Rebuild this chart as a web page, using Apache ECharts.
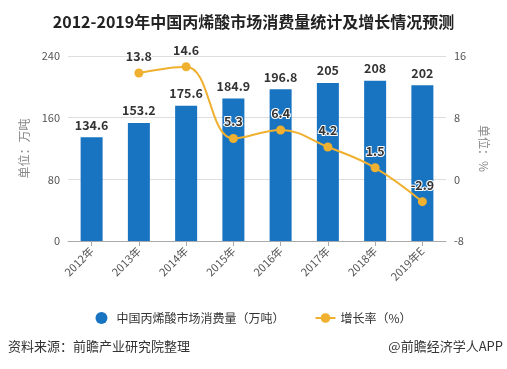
<!DOCTYPE html>
<html><head><meta charset="utf-8">
<script src="https://cdn.jsdelivr.net/npm/echarts@6/dist/echarts.min.js"></script>
<style>html,body{margin:0;padding:0;background:#fff}#c{width:507px;height:369px}</style>
</head><body><div id="c"></div>
<script>
const categories = ['2012年','2013年','2014年','2015年','2016年','2017年','2018年','2019年E'];
const consumption = [134.6,153.2,175.6,184.9,196.8,205,208,202];
const growth = [null,13.8,14.6,5.3,6.4,4.2,1.5,-2.9];
const leftTicks = {min:0,max:240,interval:80};
const rightTicks = {min:-8,max:16,interval:8};
const FONT = '"Noto Sans CJK SC","Microsoft YaHei",sans-serif';
const chart = echarts.init(document.getElementById('c'));
chart.setOption({
  animation:false,
  textStyle:{fontFamily:FONT},
  title:{text:'2012-2019年中国丙烯酸市场消费量统计及增长情况预测',left:'center',top:9,
    textStyle:{fontSize:16,fontWeight:'bold',color:'#222',fontFamily:FONT}},
  grid:{left:68,right:61,top:56,bottom:128},
  legend:{top:307,left:'center',itemGap:30,itemWidth:20,itemHeight:12,
    textStyle:{fontSize:12,color:'#333',fontFamily:FONT},
    data:[{name:'中国丙烯酸市场消费量（万吨）',icon:'circle'},{name:'增长率（%）'}]},
  graphic:[
    {type:'text',left:8,top:340,style:{text:'资料来源：前瞻产业研究院整理',fontSize:13,fill:'#333',fontFamily:FONT}},
    {type:'text',right:4,top:340,style:{text:'@前瞻经济学人APP',fontSize:13,fill:'#333',fontFamily:FONT}}
  ],
  xAxis:{type:'category',data:categories,
    axisLine:{lineStyle:{color:'#aaa'}},axisTick:{show:true,alignWithLabel:true,lineStyle:{color:'#aaa'}},
    axisLabel:{rotate:45,fontSize:11,color:'#555',margin:8}},
  yAxis:[
    {type:'value',min:leftTicks.min,max:leftTicks.max,interval:leftTicks.interval,
     name:'单位：万吨',nameLocation:'middle',nameGap:38,nameRotate:90,
     nameTextStyle:{color:'#888',fontSize:12},
     axisLabel:{color:'#555',fontSize:11},axisLine:{show:false},axisTick:{show:false},
     splitLine:{lineStyle:{color:'#ddd'}}},
    {type:'value',min:rightTicks.min,max:rightTicks.max,interval:rightTicks.interval,
     name:'单位：%',nameLocation:'middle',nameGap:30,nameRotate:-90,
     nameTextStyle:{color:'#888',fontSize:12},
     axisLabel:{color:'#555',fontSize:11},axisLine:{show:false},axisTick:{show:false},
     splitLine:{show:false}}
  ],
  series:[
    {name:'中国丙烯酸市场消费量（万吨）',type:'bar',data:consumption,barWidth:22,
     itemStyle:{color:'#1874c1'},
     label:{show:true,position:'top',fontWeight:'bold',fontSize:12.5,color:'#333',distance:6}},
    {name:'增长率（%）',type:'line',yAxisIndex:1,data:growth,smooth:0.4,
     symbol:'circle',symbolSize:9,connectNulls:false,
     lineStyle:{color:'#f0b030',width:2},itemStyle:{color:'#f0b030'},
     label:{show:true,position:'top',fontWeight:'bold',fontSize:12.5,color:'#333',
       textBorderColor:'#fff',textBorderWidth:2,distance:6}}
  ]
});
</script></body></html>
